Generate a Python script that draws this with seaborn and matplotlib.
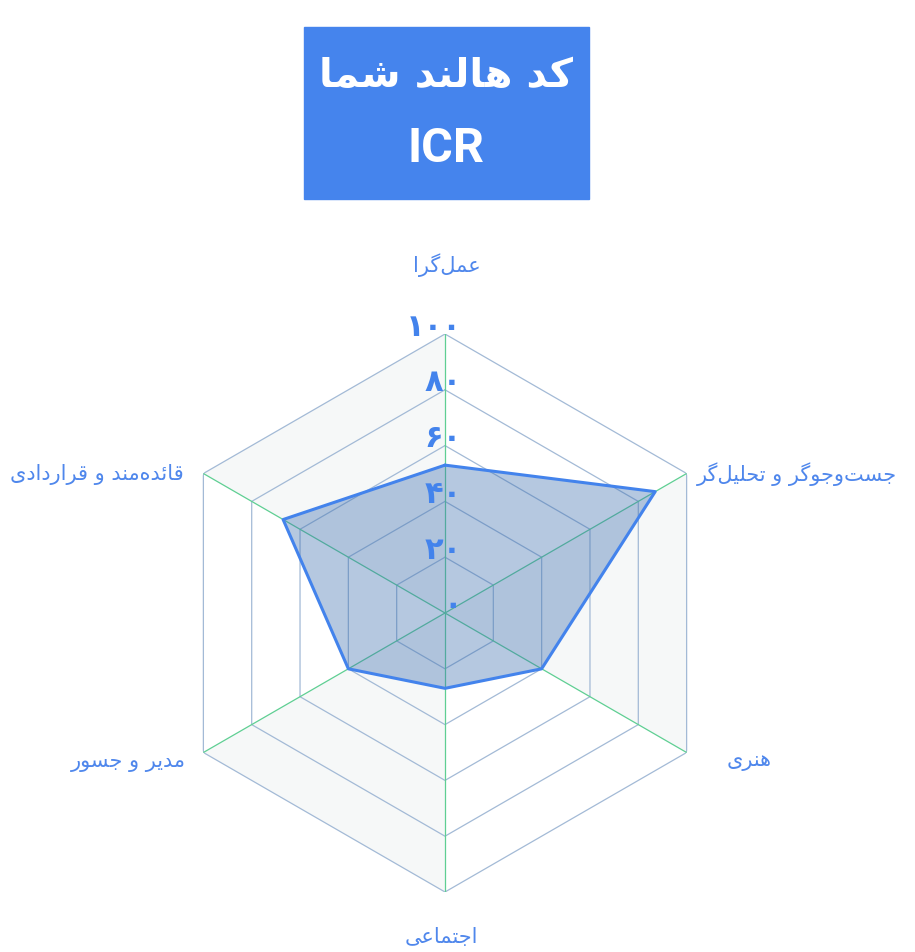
import numpy as np
import matplotlib
matplotlib.use("Agg")
import matplotlib.pyplot as plt
import seaborn as sns
from matplotlib.patches import Rectangle

# chart data
categories = ["عمل‌گرا", "جست‌وجوگر و تحلیل‌گر", "هنری", "اجتماعی", "مدیر و جسور", "قائده‌مند و قراردادی"]
scores = [53, 87, 40, 27, 40, 67]
tick_values = [0, 20, 40, 60, 80, 100]
tick_labels = ["۰", "۲۰", "۴۰", "۶۰", "۸۰", "۱۰۰"]
title_line1 = "کد هالند شما"
title_line2 = "ICR"

# label offsets in pixels from each outer vertex: (dx, dy, ha)
label_offsets = [(2, 70, "center"), (10, 0, "left"), (40, -8, "left"),
                 (-4, -44, "center"), (-18, -9, "right"), (-20, 0, "right")]

# isolated, final, initial, medial presentation forms
FORMS = {
    "ا": ("\uFE8D", "\uFE8E", None, None),
    "د": ("\uFEA9", "\uFEAA", None, None),
    "ر": ("\uFEAD", "\uFEAE", None, None),
    "و": ("\uFEED", "\uFEEE", None, None),
    "ئ": ("\uFE89", "\uFE8A", "\uFE8B", "\uFE8C"),
    "ت": ("\uFE95", "\uFE96", "\uFE97", "\uFE98"),
    "ج": ("\uFE9D", "\uFE9E", "\uFE9F", "\uFEA0"),
    "ح": ("\uFEA1", "\uFEA2", "\uFEA3", "\uFEA4"),
    "س": ("\uFEB1", "\uFEB2", "\uFEB3", "\uFEB4"),
    "ش": ("\uFEB5", "\uFEB6", "\uFEB7", "\uFEB8"),
    "ع": ("\uFEC9", "\uFECA", "\uFECB", "\uFECC"),
    "ق": ("\uFED5", "\uFED6", "\uFED7", "\uFED8"),
    "ل": ("\uFEDD", "\uFEDE", "\uFEDF", "\uFEE0"),
    "م": ("\uFEE1", "\uFEE2", "\uFEE3", "\uFEE4"),
    "ن": ("\uFEE5", "\uFEE6", "\uFEE7", "\uFEE8"),
    "ه": ("\uFEE9", "\uFEEA", "\uFEEB", "\uFEEC"),
    "ک": ("\uFB8E", "\uFB8F", "\uFB90", "\uFB91"),
    "گ": ("\uFB92", "\uFB93", "\uFB94", "\uFB95"),
    "ی": ("\uFBFC", "\uFBFD", "\uFBFE", "\uFBFF"),
}


def shape(text):
    # join letters and flip to visual order, since matplotlib has no bidi
    chars = list(text)
    out = []
    for i, c in enumerate(chars):
        if c not in FORMS:
            if c != "\u200c":
                out.append(c)
            continue
        prev = chars[i - 1] if i > 0 else None
        nxt = chars[i + 1] if i + 1 < len(chars) else None
        join_prev = prev in FORMS and FORMS[prev][2] is not None
        join_next = FORMS[c][2] is not None and nxt in FORMS
        if join_prev and join_next:
            out.append(FORMS[c][3])
        elif join_prev:
            out.append(FORMS[c][1])
        elif join_next:
            out.append(FORMS[c][2])
        else:
            out.append(FORMS[c][0])
    return "".join(reversed(out))


sns.set_theme(style="white")
plt.rcParams["font.family"] = ["DejaVu Sans"]

LINE_BLUE = "#4383ec"
TEXT_BLUE = "#4f87ec"
RING = "#a3bad6"
SPOKE = "#5fcf93"
SHADE = "#f6f8f8"

W, H = 915, 953
fig = plt.figure(figsize=(W / 100, H / 100), dpi=100)

# title box
fig.patches.append(Rectangle((304 / W, 1 - 200 / H), 285 / W, 172 / H,
                             transform=fig.transFigure, color="#4584ed", zorder=0))
fig.text(446 / W, 1 - 76 / H, shape(title_line1), color="white", fontsize=29,
         fontweight="bold", ha="center", va="center")
fig.text(446 / W, 1 - 149 / H, title_line2, color="white", fontsize=35,
         fontweight="bold", ha="center", va="center", family="Roboto")

# radar
cx, cy, R = 445, 614, 279
ax = fig.add_axes([(cx - R) / W, (H - cy - R) / H, 2 * R / W, 2 * R / H], projection="polar")
ax.set_theta_offset(np.pi / 2)
ax.set_theta_direction(-1)
ax.set_ylim(0, 100)
ax.grid(False)
ax.set_xticks([])
ax.set_yticks([])
ax.spines["polar"].set_visible(False)
ax.patch.set_alpha(0)

n = len(categories)
angles = np.linspace(0, 2 * np.pi, n, endpoint=False)
closed = np.append(angles, angles[0])
top = tick_values[-1]

# every other sector is shaded
for i in range(1, n, 2):
    ax.fill([closed[i], closed[i], closed[i + 1]], [0, top, top], color=SHADE, lw=0, zorder=1)
for v in tick_values[1:]:
    ax.plot(closed, [v] * (n + 1), color=RING, lw=0.9, zorder=2)
for a in angles:
    ax.plot([a, a], [0, top], color=SPOKE, lw=0.9, zorder=2)

vals = scores + scores[:1]
ax.fill(closed, vals, color="#3d6fb0", alpha=0.38, zorder=3, lw=0)
ax.plot(closed, vals, color=LINE_BLUE, lw=2.2, zorder=4)

for v, lbl in zip(tick_values, tick_labels):
    ax.annotate(lbl, xy=(0, v), xytext=(17, 8), textcoords="offset pixels",
                ha="right", va="center", color=LINE_BLUE, fontsize=22,
                fontweight="bold", zorder=5)

for a, cat, (dx, dy, ha) in zip(angles, categories, label_offsets):
    ax.annotate(shape(cat), xy=(a, top), xytext=(dx, dy), textcoords="offset pixels",
                ha=ha, va="center", color=TEXT_BLUE, fontsize=15,
                annotation_clip=False)

fig.savefig("out.png", dpi=100)
